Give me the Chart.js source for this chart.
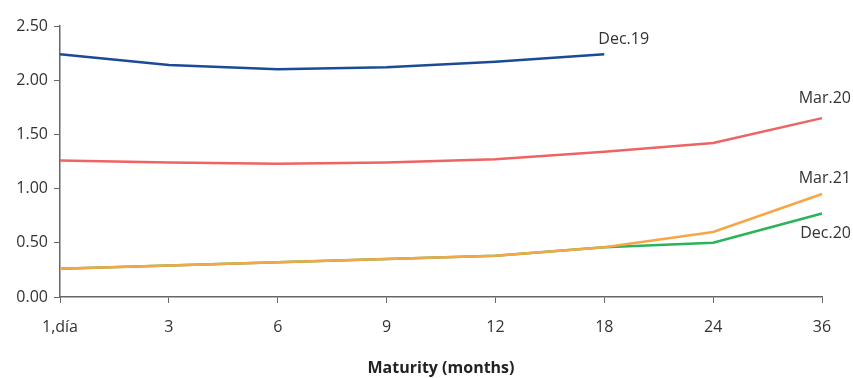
<!DOCTYPE html>
<html>
<head>
<meta charset="utf-8">
<script src="https://cdn.jsdelivr.net/npm/chart.js@4/dist/chart.umd.min.js"></script>
<style>
  html, body { margin: 0; padding: 0; background: #fff; }
  #wrap { width: 853px; height: 378px; }
</style>
</head>
<body>
<div id="wrap"><canvas id="myChart"></canvas></div>
<script>
const maturities = ['1,día', '3', '6', '9', '12', '18', '24', '36'];

const dec19 = [2.24, 2.14, 2.10, 2.12, 2.17, 2.24, null, null];
const mar20 = [1.26, 1.24, 1.23, 1.24, 1.27, 1.34, 1.42, 1.65];
const dec20 = [0.26, 0.29, 0.32, 0.35, 0.38, 0.46, 0.50, 0.77];
const mar21 = [0.26, 0.29, 0.32, 0.35, 0.38, 0.46, 0.60, 0.95];

const yTicks = [0, 0.5, 1, 1.5, 2, 2.5];

// label text, anchor point index, offset from that point, alignment
const endLabels = [
    { ds: 0, idx: 5, text: 'Dec.19', dx: -6, dy: -15, align: 'left' },
    { ds: 1, idx: 7, text: 'Mar.20', dx: 29, dy: -20, align: 'right' },
    { ds: 2, idx: 7, text: 'Mar.21', dx: 29, dy: -16, align: 'right' },
    { ds: 3, idx: 7, text: 'Dec.20', dx: 29, dy: 20, align: 'right' }
];

const endLabelPlugin = {
    id: 'endLabels',
    afterDatasetsDraw(chart) {
        const ctx = chart.ctx;
        const x = chart.scales.x, y = chart.scales.y;
        ctx.save();
        ctx.font = '16px "Open Sans"';
        ctx.fillStyle = '#333';
        ctx.textBaseline = 'middle';
        for (const l of endLabels) {
            const v = chart.data.datasets[l.ds].data[l.idx];
            ctx.textAlign = l.align;
            ctx.fillText(l.text, x.getPixelForValue(l.idx) + l.dx, y.getPixelForValue(v) + l.dy);
        }
        ctx.restore();
    }
};

function line(label, data, color) {
    return {
        label: label,
        data: data,
        borderColor: color,
        backgroundColor: color,
        borderWidth: 2.5,
        pointRadius: 0,
        tension: 0,
        spanGaps: false
    };
}

function createChart() {
    const cfg = {
        type: 'line',
        data: {
            labels: maturities,
            // earlier datasets are painted on top, so Mar.21 sits over Dec.20
            datasets: [
                line('Dec.19', dec19, '#1b4b95'),
                line('Mar.20', mar20, '#ee6363'),
                line('Mar.21', mar21, '#f7a645'),
                line('Dec.20', dec20, '#2bb35a')
            ]
        },
        options: {
            responsive: true,
            maintainAspectRatio: false,
            animation: false,
            layout: {
                padding: { left: 0, right: 31, top: 26, bottom: 0 }
            },
            plugins: {
                legend: { display: false },
                tooltip: { enabled: false }
            },
            scales: {
                x: {
                    offset: false,
                    grid: { drawOnChartArea: false, drawTicks: true, tickLength: 6, color: '#666' },
                    border: { color: '#666', width: 1.5 },
                    ticks: { color: '#333', font: { family: 'Open Sans', size: 16 }, padding: 15, maxRotation: 0 },
                    title: {
                        display: true,
                        text: 'Maturity (months)',
                        color: '#222',
                        font: { family: 'Open Sans', size: 16, weight: 'bold' },
                        padding: { top: 18, bottom: 0 }
                    },
                    afterFit(scale) { scale.height = 81; }
                },
                y: {
                    min: 0,
                    max: 2.5,
                    afterBuildTicks(scale) { scale.ticks = yTicks.map(v => ({ value: v })); },
                    grid: { drawOnChartArea: false, drawTicks: true, tickLength: 6, color: '#666' },
                    border: { color: '#666', width: 1.5 },
                    ticks: {
                        color: '#333',
                        font: { family: 'Open Sans', size: 16 },
                        padding: 6,
                        callback: v => v.toFixed(2)
                    },
                    afterFit(scale) { scale.width = 60; }
                }
            }
        },
        plugins: [endLabelPlugin]
    };
    return new Chart(document.getElementById('myChart'), cfg);
}

const chart = createChart();
</script>
</body>
</html>
